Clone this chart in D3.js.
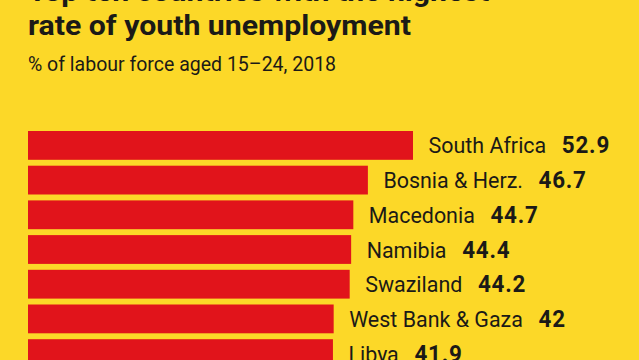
<!DOCTYPE html>
<html>
<head>
<meta charset="utf-8">
<script src="https://cdn.jsdelivr.net/npm/d3@7"></script>
<style>
  html, body { margin: 0; padding: 0; background: #fcd828; }
  svg { display: block; }
  text { font-family: Roboto, "Noto Sans", sans-serif; fill: #1b1a17; }
</style>
</head>
<body>
<div id="chart"></div>
<script>
// data
const countries = ['South Africa', 'Bosnia & Herz.', 'Macedonia', 'Namibia', 'Swaziland', 'West Bank & Gaza', 'Libya'];
const rates = [52.9, 46.7, 44.7, 44.4, 44.2, 42, 41.9];
const titleLines = ['Top ten countries with the highest', 'rate of youth unemployment'];
const subtitle = '% of labour force aged 15\u201324, 2018';

const width = 639;
const height = 360;
const margin = { l: 28, t: 131 };

const data = countries.map((c, i) => ({ country: c, rate: rates[i] }));

const svg = d3
  .select('#chart')
  .append('svg')
  .attr('width', width)
  .attr('height', height);

svg.append('rect').attr('width', width).attr('height', height).attr('fill', '#fcd828');

const xScale = d3
  .scaleLinear()
  .domain([0, d3.max(data, (d) => d.rate)])
  .range([margin.l, 413]);

const step = 34.7;
const pad = 0.17;
const yScale = d3
  .scaleBand()
  .domain(countries)
  .range([margin.t, margin.t + step * (countries.length - pad)])
  .paddingInner(pad)
  .paddingOuter(0);

// title, first line is cut off by the crop
svg
  .selectAll('.title')
  .data(titleLines)
  .join('text')
  .attr('class', 'title')
  .attr('transform', (d, i) => `translate(${margin.l}, ${1 + i * 34}) scale(1.08,1)`)
  .style('font-size', '28px')
  .style('font-weight', 700)
  .text((d) => d);

svg
  .append('text')
  .attr('transform', `translate(${margin.l}, 70.5)`)
  .style('font-size', '19.5px')
  .text(subtitle);

// bars
svg
  .selectAll('.bar')
  .data(data)
  .join('rect')
  .attr('class', 'bar')
  .attr('x', xScale(0))
  .attr('y', (d) => yScale(d.country))
  .attr('width', (d) => xScale(d.rate) - xScale(0))
  .attr('height', yScale.bandwidth())
  .attr('fill', '#e1141b');

// labels: country name then value in bold
const labels = svg
  .selectAll('.label')
  .data(data)
  .join('text')
  .attr('class', 'label')
  .attr('transform', (d) => `translate(${xScale(d.rate) + 15.5}, ${yScale(d.country) + yScale.bandwidth() / 2 + 8}) scale(0.975,1)`)
  .style('font-size', '22px');

labels.append('tspan').text((d) => d.country);
labels
  .append('tspan')
  .attr('dx', 16)
  .style('font-weight', 700)
  .style('font-size', '23px')
  .style('letter-spacing', '0.8px')
  .text((d) => String(d.rate));
</script>
</body>
</html>
